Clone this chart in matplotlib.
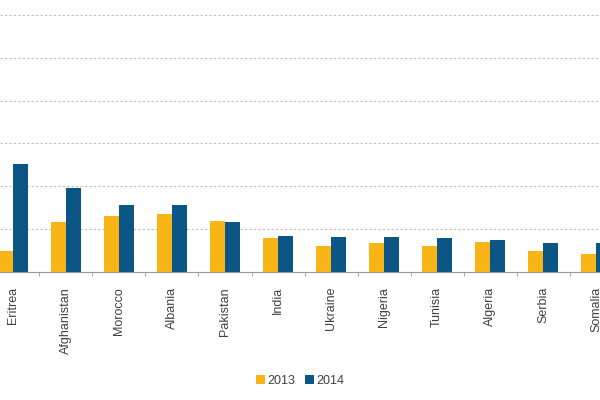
import numpy as np
import matplotlib
matplotlib.use("Agg")
import matplotlib.pyplot as plt
from matplotlib.ticker import MultipleLocator

countries = ["Eritrea", "Afghanistan", "Morocco", "Albania", "Pakistan", "India",
             "Ukraine", "Nigeria", "Tunisia", "Algeria", "Serbia", "Somalia"]
v2013 = [4.7, 11.7, 13.1, 13.4, 11.9, 7.8, 5.9, 6.7, 6.0, 6.9, 4.9, 4.1]
v2014 = [25.1, 19.6, 15.6, 15.6, 11.6, 8.3, 8.1, 8.0, 7.8, 7.4, 6.8, 6.8]

plt.rcParams['font.family'] = ['Liberation Sans', 'DejaVu Sans']

fig = plt.figure(figsize=(6, 4), dpi=100)
# the reference is a crop of a wider chart, so the axes run off the edges
ax = fig.add_axes([0, 0.321, 1, 0.679])

x = np.arange(len(countries))
w = 0.28
ax.bar(x - w / 2, v2013, w, color="#F9B515", label="2013", zorder=3)
ax.bar(x + w / 2, v2014, w, color="#0C5685", label="2014", zorder=3)

ax.set_xlim(-0.245, 11.075)
ax.set_ylim(0, 63.5)
ax.yaxis.set_major_locator(MultipleLocator(10))
ax.yaxis.grid(True, color="#bdbdbd", linestyle=(0, (2, 2)), linewidth=0.8)
ax.set_axisbelow(True)
ax.tick_params(axis="y", left=False, labelleft=False)

for s in ["left", "right", "top"]:
    ax.spines[s].set_visible(False)
ax.spines["bottom"].set_color("#999999")
ax.spines["bottom"].set_zorder(4)

ax.set_xticks(x)
ax.set_xticklabels(countries, rotation=90, fontsize=9, color="#404040")
ax.tick_params(axis="x", which="major", length=0, pad=11)
ax.set_xticks(x[:-1] + 0.5, minor=True)
ax.tick_params(axis="x", which="minor", length=3, color="#999999", direction="out")

fig.legend(loc="center", bbox_to_anchor=(0.5, 0.047), ncol=2, frameon=False,
           fontsize=9, handlelength=0.7, handleheight=0.7, handletextpad=0.2,
           columnspacing=0.8, labelcolor="#404040")

fig.savefig("out.png", dpi=100)
